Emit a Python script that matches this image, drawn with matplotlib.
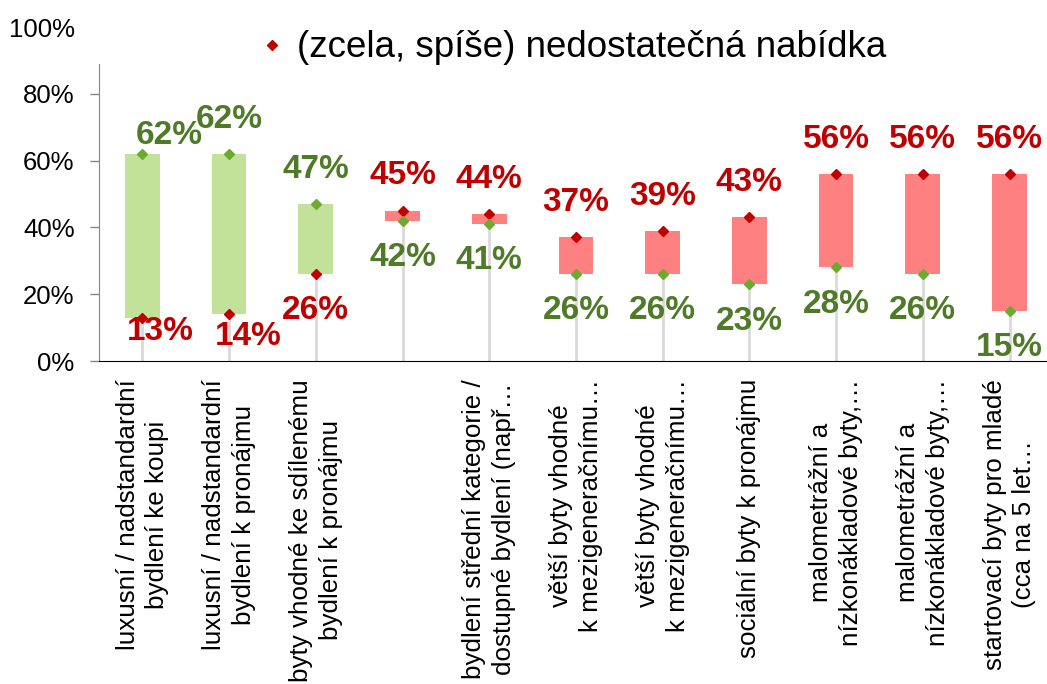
import matplotlib
matplotlib.use("Agg")
import matplotlib.pyplot as plt
import numpy as np

plt.rcParams['font.family'] = ['Liberation Sans', 'DejaVu Sans']

# Data
categories = [
    "luxusní / nadstandardní\nbydlení ke koupi",
    "luxusní / nadstandardní\nbydlení k pronájmu",
    "byty vhodné ke sdílenému\nbydlení k pronájmu",
    "",
    "bydlení střední kategorie /\ndostupné bydlení (např…",
    "větší byty vhodné\nk mezigeneračnímu…",
    "větší byty vhodné\nk mezigeneračnímu…",
    "sociální byty k pronájmu",
    "malometrážní a\nnízkonákladové byty,…",
    "malometrážní a\nnízkonákladové byty,…",
    "startovací byty pro mladé\n(cca na 5 let…",
]
nedostatecna = [13, 14, 26, 45, 44, 37, 39, 43, 56, 56, 56]   # red
nadbytecna = [62, 62, 47, 42, 41, 26, 26, 23, 28, 26, 15]     # green
yticks = [0, 20, 40, 60, 80, 100]

red = np.array(nedostatecna) / 100
green = np.array(nadbytecna) / 100
x = np.arange(len(categories))

RED_DARK = '#c00000'
GREEN_DARK = '#4f7a28'
GREEN_MARK = '#6aab30'
RED_BAR = '#ff8080'
GREEN_BAR = '#c2e29a'

fig = plt.figure(figsize=(10.47, 6.84), dpi=100)
ax = fig.add_axes([0.0946, 0.4722, 0.911, 0.4883])

low = np.minimum(red, green)
high = np.maximum(red, green)

# grey lines from 0 up to the low value
ax.vlines(x, 0, low, color='#d9d9d9', lw=2, zorder=1)

# up/down bars
bar_colors = [GREEN_BAR if g > r else RED_BAR for r, g in zip(red, green)]
ax.bar(x, high - low, bottom=low, width=0.4, color=bar_colors, zorder=2)

# markers
ax.plot(x, red, linestyle='none', marker='D', ms=5.5, color=RED_DARK, zorder=3,
        label='(zcela, spíše) nedostatečná nabídka')
ax.plot(x, green, linestyle='none', marker='D', ms=5.5, color=GREEN_MARK, zorder=3)

# data labels: higher value above, lower below
special = {(0, 'g'): (19, 13), (0, 'r'): (13, -10), (1, 'r'): (14, -16)}
for i in range(len(x)):
    for key, val, col in (('r', red[i], RED_DARK), ('g', green[i], GREEN_DARK)):
        other = green[i] if key == 'r' else red[i]
        dy = 25 if val >= other else -26.5
        dx, dy = special.get((i, key), (0, dy))
        ax.annotate(f"{int(round(val * 100))}%", (x[i], val), xytext=(dx, dy),
                    textcoords='offset points', ha='center', va='center',
                    fontsize=24, fontweight='bold', color=col, zorder=4)

ax.set_xlim(-0.5, len(categories) - 0.5)
ax.set_ylim(0, 1)
ax.set_yticks(np.array(yticks) / 100)
ax.set_yticklabels([f"{t}%" for t in yticks], fontsize=18.5)
ax.tick_params(axis='y', length=6.5, width=1, color='#868686', pad=11)
ax.yaxis.get_major_ticks()[-1].tick1line.set_visible(False)

ax.set_xticks(x)
ax.set_xticklabels(categories, rotation=90, fontsize=18.7, ha='center', va='top',
                   multialignment='center', linespacing=1.3)
ax.tick_params(axis='x', length=0, pad=13)

for s in ('top', 'right'):
    ax.spines[s].set_visible(False)
ax.spines['left'].set_color('#868686')
ax.spines['left'].set_bounds(0, 0.89)
ax.spines['bottom'].set_color('black')

leg = ax.legend(loc='upper left', bbox_to_anchor=(0.15, 1.045), frameon=False,
                fontsize=26.5, handlelength=0.6, handletextpad=0.4, borderpad=0)

fig.savefig('out.png', dpi=100)
